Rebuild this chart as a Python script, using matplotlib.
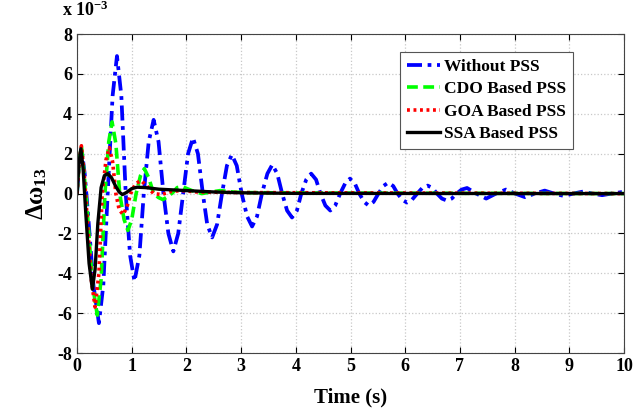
import numpy as np
import matplotlib
matplotlib.use('Agg')
import matplotlib.pyplot as plt

plt.rcParams['font.family'] = 'Liberation Serif'
plt.rcParams['font.weight'] = 'bold'
plt.rcParams['axes.unicode_minus'] = False
plt.rcParams['mathtext.fontset'] = 'custom'
plt.rcParams['mathtext.rm'] = 'Liberation Serif:bold'
plt.rcParams['mathtext.it'] = 'Liberation Serif:bold'
plt.rcParams['mathtext.bf'] = 'Liberation Serif:bold'

# values, y in units of 1e-3
t_wo = [0, 0.04, 0.08, 0.14, 0.2, 0.3, 0.4, 0.48, 0.56, 0.65, 0.73, 0.81, 0.89, 0.97, 1.05,
        1.14, 1.22, 1.31, 1.40, 1.49, 1.58, 1.67, 1.76, 1.85, 1.94, 2.03, 2.12, 2.21, 2.30,
        2.38, 2.47, 2.56, 2.65, 2.74, 2.83, 2.92, 3.01, 3.11, 3.20, 3.29, 3.38, 3.48, 3.57,
        3.66, 3.75, 3.84, 3.93, 4.02, 4.10, 4.19, 4.28, 4.37, 4.45, 4.54, 4.63, 4.72, 4.81,
        4.90, 4.99, 5.08, 5.16, 5.25, 5.33, 5.42, 5.51, 5.60, 5.69, 5.78, 5.86, 5.95, 6.03,
        6.12, 6.22, 6.31, 6.41, 6.50, 6.58, 6.67, 6.76, 6.85, 6.94, 7.03, 7.13, 7.30, 7.48,
        7.66, 7.84, 8.01, 8.19, 8.37, 8.55, 8.72, 8.90, 9.07, 9.25, 9.42, 9.60, 9.77, 9.95, 10.0]
y_wo = [0, 1.6, 2.3, 1.0, -1.0, -4.6, -6.5, -4.6, 0, 4.9, 6.9, 4.9, 0, -3.1, -4.4,
        -3.1, 0, 2.6, 3.7, 2.6, 0, -2.0, -2.9, -2.0, 0, 2.0, 2.8, 2.0, 0,
        -1.55, -2.2, -1.55, 0, 1.4, 1.95, 1.4, 0, -1.15, -1.65, -1.15, 0, 1.0, 1.45,
        1.0, 0, -0.85, -1.2, -0.85, 0, 0.7, 1.0, 0.7, 0, -0.6, -0.85, -0.6, 0,
        0.5, 0.75, 0.5, 0, -0.42, -0.6, -0.42, 0, 0.38, 0.55, 0.38, 0, -0.32, -0.45,
        -0.32, 0, 0.28, 0.4, 0.28, 0, -0.25, -0.35, -0.25, 0, 0.2, 0.28, 0, -0.25,
        0, 0.2, 0, -0.18, 0, 0.15, 0, -0.12, 0, 0.1, 0, -0.08, 0, 0.07, 0.06]

t_cdo = [0, 0.04, 0.08, 0.13, 0.19, 0.28, 0.37, 0.44, 0.51, 0.58, 0.64, 0.71, 0.78, 0.86,
         0.93, 1.00, 1.08, 1.16, 1.23, 1.31, 1.40, 1.49, 1.57, 1.66, 1.75, 1.83, 1.92,
         2.10, 2.28, 2.45, 2.62, 2.85, 3.1, 4.0, 10.0]
y_cdo = [0, 1.6, 2.4, 1.0, -1.0, -4.5, -6.1, -4.3, 0, 2.6, 3.6, 2.5, 0, -1.3,
         -1.85, -1.3, 0, 0.9, 1.25, 0.8, 0, -0.2, -0.3, -0.15, 0.05, 0.3, 0.35,
         0.15, 0.0, 0.08, 0.15, 0.08, 0.05, 0.03, 0.0]

t_goa = [0, 0.04, 0.08, 0.13, 0.18, 0.26, 0.33, 0.40, 0.46, 0.53, 0.59, 0.65, 0.71, 0.77,
         0.84, 0.91, 0.98, 1.07, 1.17, 1.27, 1.40, 1.55, 1.7, 1.9, 2.2, 3.0, 10.0]
y_goa = [0, 1.6, 2.4, 1.0, -1.0, -4.3, -5.7, -4.0, 0, 1.7, 2.3, 1.6, 0, -0.8,
         -1.05, -0.7, 0, 0.5, 0.65, 0.4, 0.0, -0.05, 0.1, 0.15, 0.08, 0.05, 0.0]

t_ssa = [0, 0.035, 0.07, 0.11, 0.16, 0.22, 0.28, 0.33, 0.38, 0.44, 0.5, 0.56, 0.63, 0.7,
         0.77, 0.83, 0.9, 1.0, 1.1, 1.25, 1.5, 2.0, 2.5, 3.0, 4.0, 10.0]
y_ssa = [0, 1.5, 2.25, 1.3, -1.0, -3.5, -4.8, -3.8, -1.5, 0.3, 0.9, 1.0, 0.8, 0.4,
         0.08, -0.05, 0.05, 0.25, 0.32, 0.3, 0.22, 0.15, 0.08, 0.04, 0.01, 0.0]

fig = plt.figure(figsize=(6.42, 4.11), dpi=100)
ax = fig.add_axes([0.12, 0.141, 0.852, 0.776])

ax.plot(t_wo, y_wo, color='#0000ff', lw=2.7, linestyle=(0, (4, 1.5, 1, 1.5)), label='Without PSS')
ax.plot(t_cdo, y_cdo, color='#00ff00', lw=2.6, linestyle=(0, (3, 1.5)), label='CDO Based PSS')
ax.plot(t_goa, y_goa, color='#ff0000', lw=2.6, linestyle=(0, (0.8, 1)), label='GOA Based PSS')
ax.plot(t_ssa, y_ssa, color='black', lw=2.4, label='SSA Based PSS')

ax.set_xlim(0, 10)
ax.set_ylim(-8, 8)
ax.set_xticks(np.arange(0, 11, 1))
ax.set_yticks(np.arange(-8, 9, 2))
ax.grid(True, color='#c8c8c8', linestyle=':', linewidth=0.9)
ax.tick_params(labelsize=13, direction='in', length=4, width=0.8, top=True, right=True)
for s in ax.spines.values():
    s.set_linewidth(0.8)
    s.set_color('#444444')

ax.text(-0.028, 1.045, r'x 10$^{-3}$', transform=ax.transAxes, fontsize=13,
        fontweight='bold', ha='left', va='bottom')
ax.set_xlabel('Time (s)', fontsize=15, fontweight='bold', labelpad=9)
ax.set_ylabel(r'$\Delta\omega_{13}$', fontsize=18, labelpad=6)

leg = ax.legend(loc='upper right', bbox_to_anchor=(0.907, 0.944),
                prop={'weight': 'bold', 'size': 12.5}, handlelength=1.9, handletextpad=0.25,
                labelspacing=0.36, borderpad=0.4, borderaxespad=0, fancybox=False, framealpha=1)
leg.get_frame().set_edgecolor('#555555')
leg.get_frame().set_linewidth(0.8)

fig.savefig('out.png', dpi=100)
